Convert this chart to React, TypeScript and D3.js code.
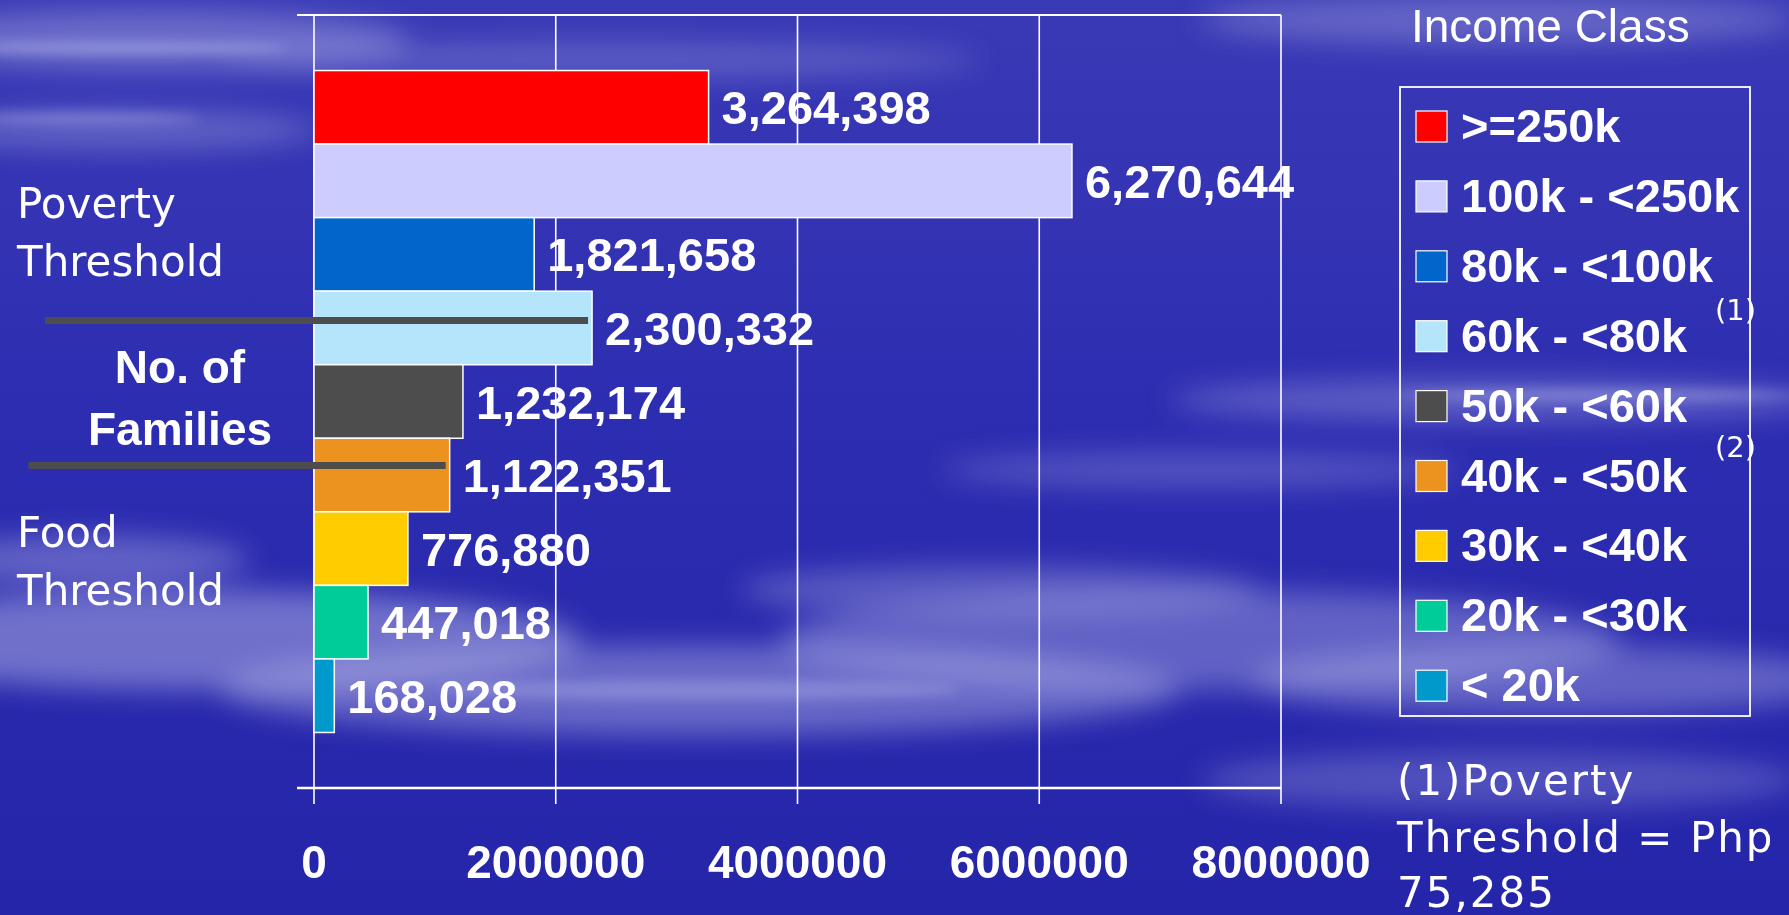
import React from "react";
import * as d3 from "d3";

const W = 1789;
const H = 915;

const seriesNames = [">=250k", "100k - <250k", "80k - <100k", "60k - <80k", "50k - <60k", "40k - <50k", "30k - <40k", "20k - <30k", "< 20k"];
const familyCounts = [3264398, 6270644, 1821658, 2300332, 1232174, 1122351, 776880, 447018, 168028];
const seriesColors = ["#ff0000", "#ccccff", "#0066cc", "#b5e5fb", "#4d4d4d", "#ec931f", "#ffcc00", "#00cc99", "#0099cc"];
const xTickValues = [0, 2000000, 4000000, 6000000, 8000000];
const footnotes = ["(1)", "(2)"];
const footnoteSeries = ["60k - <80k", "40k - <50k"];

const BOLD = "'Liberation Sans', Arial, sans-serif";
const REG = "'DejaVu Sans', Verdana, sans-serif";

export default function App() {
  const plotLeft = 314, plotRight = 1281, plotTop = 15, plotBottom = 788;
  const x = d3.scaleLinear().domain([0, 8000000]).range([plotLeft, plotRight]);
  const y = d3.scaleBand<string>().domain(seriesNames).range([plotTop, plotBottom]).paddingInner(0).paddingOuter(0.755);
  const fmt = d3.format(",");
  const bw = y.bandwidth();

  const legendX = 1400, legendY = 87, legendW = 350, legendH = 629;
  const itemStep = 69.9;
  const itemTop = 111;

  const line1Y = (y("60k - <80k") as number) + bw * 0.4;
  const line2Y = (y("40k - <50k") as number) + bw * 0.37;

  return (
    <svg width={W} height={H} style={{ position: "absolute", left: 0, top: 0, display: "block" }}>
      <defs>
        <linearGradient id="bg" x1="0" y1="0" x2="0" y2="1">
          <stop offset="0" stopColor="#3a3ab6" />
          <stop offset="0.45" stopColor="#2d2db2" />
          <stop offset="1" stopColor="#2525aa" />
        </linearGradient>
        <filter id="blur" x="-20%" y="-50%" width="140%" height="200%">
          <feGaussianBlur stdDeviation="14" />
        </filter>
        <filter id="blur2" x="-20%" y="-50%" width="140%" height="200%">
          <feGaussianBlur stdDeviation="6" />
        </filter>
      </defs>
      <rect x={0} y={0} width={W} height={H} fill="url(#bg)" />
      <g filter="url(#blur)" fill="#c8c8f0">
        <ellipse cx={150} cy={40} rx={260} ry={30} opacity={0.35} />
        <ellipse cx={600} cy={60} rx={380} ry={18} opacity={0.25} />
        <ellipse cx={120} cy={130} rx={200} ry={20} opacity={0.3} />
        <ellipse cx={1500} cy={20} rx={300} ry={25} opacity={0.3} />
        <ellipse cx={200} cy={640} rx={380} ry={50} opacity={0.45} />
        <ellipse cx={700} cy={690} rx={480} ry={45} opacity={0.4} />
        <ellipse cx={1200} cy={640} rx={420} ry={50} opacity={0.35} />
        <ellipse cx={1550} cy={680} rx={300} ry={35} opacity={0.35} />
        <ellipse cx={1500} cy={400} rx={330} ry={22} opacity={0.3} />
        <ellipse cx={1200} cy={470} rx={260} ry={18} opacity={0.25} />
        <ellipse cx={1000} cy={590} rx={260} ry={25} opacity={0.3} />
        <ellipse cx={1500} cy={780} rx={300} ry={30} opacity={0.25} />
        <ellipse cx={90} cy={560} rx={160} ry={25} opacity={0.35} />
      </g>
      <g filter="url(#blur2)" fill="#e0e0ff">
        <ellipse cx={120} cy={48} rx={170} ry={6} opacity={0.35} />
        <ellipse cx={80} cy={118} rx={120} ry={5} opacity={0.3} />
        <ellipse cx={700} cy={690} rx={260} ry={10} opacity={0.25} />
        <ellipse cx={1600} cy={395} rx={200} ry={6} opacity={0.3} />
      </g>

      {/* grid and axes */}
      <g stroke="#ffffff" fill="none">
        {xTickValues.map((t) => (
          <line key={"g" + t} x1={x(t)} x2={x(t)} y1={plotTop} y2={plotBottom + 16} strokeWidth={1.6} />
        ))}
        <line x1={plotLeft - 17} x2={plotRight} y1={plotTop} y2={plotTop} strokeWidth={2} />
        <line x1={plotLeft - 17} x2={plotRight} y1={plotBottom} y2={plotBottom} strokeWidth={2.5} />
      </g>

      {/* bars */}
      {seriesNames.map((s, i) => (
        <rect key={s} x={x(0)} y={y(s) as number} width={x(familyCounts[i]) - x(0)} height={bw}
          fill={seriesColors[i]} stroke="#ffffff" strokeWidth={1.5} />
      ))}

      {/* value labels */}
      {seriesNames.map((s, i) => (
        <text key={"l" + s} x={x(familyCounts[i]) + 13} y={(y(s) as number) + bw / 2 + 17}
          fill="#ffffff" fontFamily={BOLD} fontWeight="bold" fontSize={47}>{fmt(familyCounts[i])}</text>
      ))}

      {/* threshold lines */}
      <line x1={45} x2={x(familyCounts[3]) - 4} y1={line1Y} y2={line1Y} stroke="#4d4d4d" strokeWidth={7} />
      <line x1={28.5} x2={x(familyCounts[5]) - 4} y1={line2Y} y2={line2Y} stroke="#4d4d4d" strokeWidth={7} />

      {/* x tick labels */}
      {xTickValues.map((t) => (
        <text key={"t" + t} x={x(t)} y={878} textAnchor="middle" fill="#ffffff" fontFamily={BOLD}
          fontWeight="bold" fontSize={46}>{String(t)}</text>
      ))}

      {/* left annotations */}
      <g fill="#ffffff" fontFamily={REG} fontSize={42}>
        <text x={17} y={218}>Poverty</text>
        <text x={17} y={276}>Threshold</text>
        <text x={17} y={547}>Food</text>
        <text x={17} y={605}>Threshold</text>
      </g>
      <g fill="#ffffff" fontFamily={BOLD} fontWeight="bold" fontSize={46} textAnchor="middle">
        <text x={180} y={383}>No. of</text>
        <text x={180} y={445}>Families</text>
      </g>

      {/* legend */}
      <text x={1411} y={42} fill="#ffffff" fontFamily={BOLD} fontSize={46}>Income Class</text>
      <rect x={legendX} y={legendY} width={legendW} height={legendH} fill="none" stroke="#ffffff" strokeWidth={1.8} />
      {seriesNames.map((s, i) => (
        <g key={"lg" + s}>
          <rect x={1416} y={itemTop + itemStep * i} width={31} height={31} fill={seriesColors[i]} stroke="#ffffff" strokeWidth={1.2} />
          <text x={1461} y={itemTop + itemStep * i + 31} fill="#ffffff" fontFamily={BOLD} fontWeight="bold" fontSize={47}>{s}</text>
        </g>
      ))}
      {footnotes.map((f, k) => (
        <text key={f} x={1715} y={itemTop + itemStep * seriesNames.indexOf(footnoteSeries[k]) - 1 - k * 3}
          fill="#ffffff" fontFamily={REG} fontSize={29}>{f}</text>
      ))}

      {/* footnote */}
      <g fill="#ffffff" fontFamily={REG} fontSize={42} letterSpacing={2}>
        <text x={1397} y={795}>(1)Poverty</text>
        <text x={1397} y={852}>Threshold = Php</text>
        <text x={1397} y={907}>75,285</text>
      </g>
    </svg>
  );
}
